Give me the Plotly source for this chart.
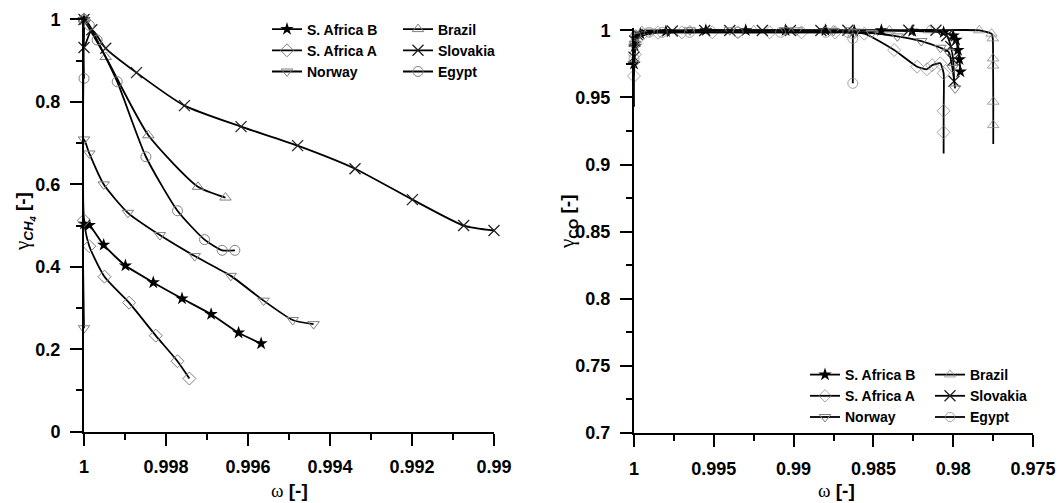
import plotly.graph_objects as go

# ---------------- data: left panel (gamma CH4 vs omega) ----------------
sab_x_l = [1.0, 1.0, 0.99987, 0.99952, 0.99899, 0.99831, 0.99761, 0.99690, 0.99623, 0.99568]
sab_y_l = [1.0, 0.504, 0.501, 0.453, 0.403, 0.362, 0.323, 0.285, 0.240, 0.214]

saa_x_l = [1.0, 1.0, 0.99987, 0.99950, 0.99890, 0.99825, 0.99772, 0.99743]
saa_y_l = [1.0, 0.513, 0.450, 0.376, 0.313, 0.233, 0.171, 0.129]

nor_x_l = [1.0, 1.0, 0.99987, 0.99952, 0.99893, 0.99815, 0.99730, 0.99642, 0.99562, 0.99491, 0.99440]
nor_y_l = [0.251, 0.709, 0.675, 0.600, 0.531, 0.477, 0.426, 0.378, 0.318, 0.271, 0.261]

bra_x_l = [1.0, 0.99947, 0.99843, 0.99722, 0.99655]
bra_y_l = [1.0, 0.909, 0.719, 0.594, 0.568]

slo_x_l = [1.0, 1.0, 0.99981, 0.99947, 0.99872, 0.99755, 0.99617, 0.99479, 0.99339, 0.99199, 0.99074, 0.99000]
slo_y_l = [1.0, 0.932, 0.975, 0.930, 0.871, 0.791, 0.740, 0.694, 0.638, 0.563, 0.500, 0.488]

egy_x_l = [1.0, 1.0, 0.99987, 0.99968, 0.99919, 0.99849, 0.99772, 0.99706, 0.99663, 0.99632]
egy_y_l = [0.857, 1.0, 0.986, 0.950, 0.849, 0.667, 0.536, 0.466, 0.440, 0.440]

# ---------------- data: right panel (gamma CO vs omega) ----------------
sab_x_r = [1.0, 0.99995, 0.9999, 0.9996, 0.998, 0.9955, 0.993, 0.9905, 0.988, 0.9862, 0.9845,
           0.98257, 0.9806, 0.9800, 0.97982, 0.9797, 0.97961, 0.97955]
sab_y_r = [0.975, 0.988, 0.994, 0.9975, 0.9992, 1.0, 1.0, 1.0, 1.0, 0.9995, 1.0,
           0.9995, 0.9985, 0.996, 0.9928, 0.9853, 0.9784, 0.9692]

saa_x_r = [1.0, 0.99995, 0.9999, 0.9996, 0.9985, 0.9970, 0.9951, 0.9935, 0.9915, 0.9895, 0.9874,
           0.98557, 0.9837, 0.98226, 0.98164, 0.98132, 0.98081, 0.9806, 0.9806, 0.9806, 0.9806]
saa_y_r = [0.966, 0.982, 0.990, 0.9955, 0.9982, 0.9985, 0.9985, 0.9985, 0.9985, 0.9985, 0.9985,
           0.9975, 0.9853, 0.9729, 0.9710, 0.9740, 0.9754, 0.9680, 0.9400, 0.9240, 0.9083]

nor_x_r = [1.0, 0.99995, 0.9998, 0.999, 0.9965, 0.994, 0.9905, 0.9898, 0.9875, 0.9862, 0.9851,
           0.9835, 0.9820, 0.9808, 0.98029, 0.98005, 0.97988]
nor_y_r = [0.975, 0.990, 0.996, 0.999, 1.0, 1.0, 1.0, 1.0, 0.9995, 0.9985, 0.998,
           0.9955, 0.992, 0.987, 0.984, 0.972, 0.9567]

bra_x_r = [1.0, 0.9999, 0.9995, 0.9965, 0.9925, 0.9875, 0.9840, 0.9815, 0.97836, 0.9776,
           0.97752, 0.97750, 0.97750, 0.97749, 0.97749, 0.97749]
bra_y_r = [0.990, 0.997, 0.9995, 1.0, 1.0, 1.0, 1.0, 1.0, 1.0, 0.9975,
           0.994, 0.979, 0.9737, 0.9468, 0.9294, 0.9153]

slo_x_r = [1.0, 0.99995, 0.9998, 0.9976, 0.99557, 0.9940, 0.99196, 0.9902, 0.98829, 0.9866,
           0.98278, 0.98108, 0.9804, 0.98015, 0.9800, 0.97995]
slo_y_r = [0.980, 0.992, 0.997, 0.9995, 0.9998, 0.9998, 0.9998, 0.9998, 0.9998, 1.0,
           1.0, 1.0, 0.996, 0.988, 0.978, 0.962]

egy_x_r = [1.0, 1.0, 0.99995, 0.9999, 0.99905, 0.99823, 0.99652, 0.99348, 0.99082, 0.98797,
           0.9866, 0.98629, 0.98629, 0.98629]
egy_y_r = [0.943, 0.979, 0.990, 0.996, 0.9985, 0.9985, 0.9985, 0.9985, 0.9985, 0.9985,
           0.9985, 0.9975, 0.994, 0.9605]

names = ["S. Africa B", "Brazil", "S. Africa A", "Slovakia", "Norway", "Egypt"]

# ---------------- ticks ----------------
xl_ticks = [1.0, 0.998, 0.996, 0.994, 0.992, 0.99]
xl_text = ["1", "0.998", "0.996", "0.994", "0.992", "0.99"]
yl_ticks = [0, 0.2, 0.4, 0.6, 0.8, 1.0]
yl_text = ["0", "0.2", "0.4", "0.6", "0.8", "1"]
xr_ticks = [1.0, 0.995, 0.99, 0.985, 0.98, 0.975]
xr_text = ["1", "0.995", "0.99", "0.985", "0.98", "0.975"]
yr_ticks = [0.7, 0.75, 0.8, 0.85, 0.9, 0.95, 1.0]
yr_text = ["0.7", "0.75", "0.8", "0.85", "0.9", "0.95", "1"]

GRAY = "#7f7f7f"
styles = {
    "S. Africa B": dict(symbol="star", color="black", size=10, line=dict(width=0, color="black")),
    "Brazil": dict(symbol="triangle-up-open", color=GRAY, size=10, line=dict(width=1, color=GRAY)),
    "S. Africa A": dict(symbol="diamond-open", color=GRAY, size=10, line=dict(width=1, color=GRAY)),
    "Slovakia": dict(symbol="x-thin-open", color="#222222", size=11, line=dict(width=1.3, color="#222222")),
    "Norway": dict(symbol="triangle-down-open", color=GRAY, size=10, line=dict(width=1, color=GRAY)),
    "Egypt": dict(symbol="circle-open", color=GRAY, size=10, line=dict(width=1, color=GRAY)),
}

left = {
    "S. Africa B": (sab_x_l, sab_y_l), "Brazil": (bra_x_l, bra_y_l),
    "S. Africa A": (saa_x_l, saa_y_l), "Slovakia": (slo_x_l, slo_y_l),
    "Norway": (nor_x_l, nor_y_l), "Egypt": (egy_x_l, egy_y_l),
}
right = {
    "S. Africa B": (sab_x_r, sab_y_r), "Brazil": (bra_x_r, bra_y_r),
    "S. Africa A": (saa_x_r, saa_y_r), "Slovakia": (slo_x_r, slo_y_r),
    "Norway": (nor_x_r, nor_y_r), "Egypt": (egy_x_r, egy_y_r),
}
# points drawn without a marker (line end / start only) in the right panel
no_marker_r = {"Egypt": [0], "Brazil": [-1], "S. Africa A": [-1]}
col1 = ["S. Africa B", "S. Africa A", "Norway"]

fig = go.Figure()
for n in names:
    x, y = left[n]
    fig.add_trace(go.Scatter(
        x=x, y=y, name=n, mode="lines+markers", xaxis="x", yaxis="y",
        line=dict(color="black", width=1.8, shape="spline", smoothing=0.6),
        marker=styles[n], cliponaxis=False,
        legend="legend" if n in col1 else "legend2"))
for n in names:
    x, y = right[n]
    mk = dict(styles[n])
    if n in no_marker_r:
        sizes = [mk["size"]] * len(x)
        for i in no_marker_r[n]:
            sizes[i] = 0
        mk["size"] = sizes
    fig.add_trace(go.Scatter(
        x=x, y=y, name=n, mode="lines+markers", xaxis="x2", yaxis="y2",
        line=dict(color="black", width=1.8, shape="spline", smoothing=0.5),
        marker=mk, cliponaxis=False,
        legend="legend3" if n in col1 else "legend4"))

# the page puts an 8 px margin around the figure; lay out in window pixels
OFF = 8
W, H = 1064 - OFF, 503 - OFF
def px(v):
    return (v - OFF) / W
def py(v):
    return 1 - (v - OFF) / H

tickfont = dict(family="Liberation Sans", size=18, color="black", weight="bold")
axis_common = dict(showgrid=False, zeroline=False, showline=True, linecolor="black", linewidth=2,
                   ticks="outside", ticklen=12, tickwidth=2, tickcolor="black",
                   tickfont=tickfont, tickmode="array", mirror=False, automargin=False)

fig.update_layout(
    width=W, height=H, margin=dict(l=0, r=0, t=0, b=0, pad=0, autoexpand=False),
    paper_bgcolor="white", plot_bgcolor="white",
    xaxis=dict(domain=[px(84), px(494)], range=[1.0, 0.99], tickvals=xl_ticks, ticktext=xl_text,
               anchor="y", ticklabelstandoff=6,
               minor=dict(dtick=0.001, tick0=1.0, ticks="outside", ticklen=6, tickwidth=2,
                          tickcolor="black", showgrid=False), **axis_common),
    yaxis=dict(domain=[py(431.7), py(17.4)], range=[0, 1.005], tickvals=yl_ticks, ticktext=yl_text,
               anchor="x", ticklabelstandoff=6,
               minor=dict(dtick=0.1, tick0=0, ticks="outside", ticklen=6, tickwidth=2,
                          tickcolor="black", showgrid=False), **axis_common),
    xaxis2=dict(domain=[px(634), px(1033)], range=[1.0, 0.975], tickvals=xr_ticks, ticktext=xr_text,
                anchor="y2", ticklabelstandoff=6,
                minor=dict(dtick=0.0025, tick0=1.0, ticks="outside", ticklen=6, tickwidth=2,
                           tickcolor="black", showgrid=False), **axis_common),
    yaxis2=dict(domain=[py(433.0), py(28.3)], range=[0.7, 1.0015], tickvals=yr_ticks, ticktext=yr_text,
                anchor="x2", ticklabelstandoff=6,
                minor=dict(dtick=0.025, tick0=0.7, ticks="outside", ticklen=6, tickwidth=2,
                           tickcolor="black", showgrid=False), **axis_common),
    showlegend=True,
)

legfont = dict(family="Liberation Sans", size=14, color="black", weight="bold")
legbase = dict(font=legfont, bgcolor="rgba(0,0,0,0)", borderwidth=0, xanchor="left", yanchor="top",
               orientation="v", tracegroupgap=0, itemwidth=30)
fig.update_layout(
    legend=dict(x=px(267), y=py(13.5), **legbase),
    legend2=dict(x=px(398), y=py(13.5), **legbase),
    legend3=dict(x=px(805), y=py(359), **legbase),
    legend4=dict(x=px(930), y=py(359), **legbase),
)

title_font = dict(family="Liberation Sans", size=19, color="black", weight="bold")
omega = "<span style='font-family:Liberation Serif;font-weight:normal'>ω</span> [-]"
gch4 = ("<span style='font-family:Liberation Serif;font-weight:normal;font-size:21px'>γ</span>"
        "<sub><i>CH<sub>4</sub></i></sub> [-]")
gco = ("<span style='font-family:Liberation Serif;font-weight:normal;font-size:21px'>γ</span>"
       "<sub>CO</sub> [-]")
fig.add_annotation(text=omega, x=px(289), y=py(490), xref="paper", yref="paper",
                   showarrow=False, font=title_font, xanchor="center", yanchor="middle")
fig.add_annotation(text=omega, x=px(836), y=py(490), xref="paper", yref="paper",
                   showarrow=False, font=title_font, xanchor="center", yanchor="middle")
fig.add_annotation(text=gch4, x=px(24), y=py(222), xref="paper", yref="paper", textangle=-90,
                   showarrow=False, font=title_font, xanchor="center", yanchor="middle")
fig.add_annotation(text=gco, x=px(568), y=py(222), xref="paper", yref="paper", textangle=-90,
                   showarrow=False, font=title_font, xanchor="center", yanchor="middle")

fig.write_html("out.html")
